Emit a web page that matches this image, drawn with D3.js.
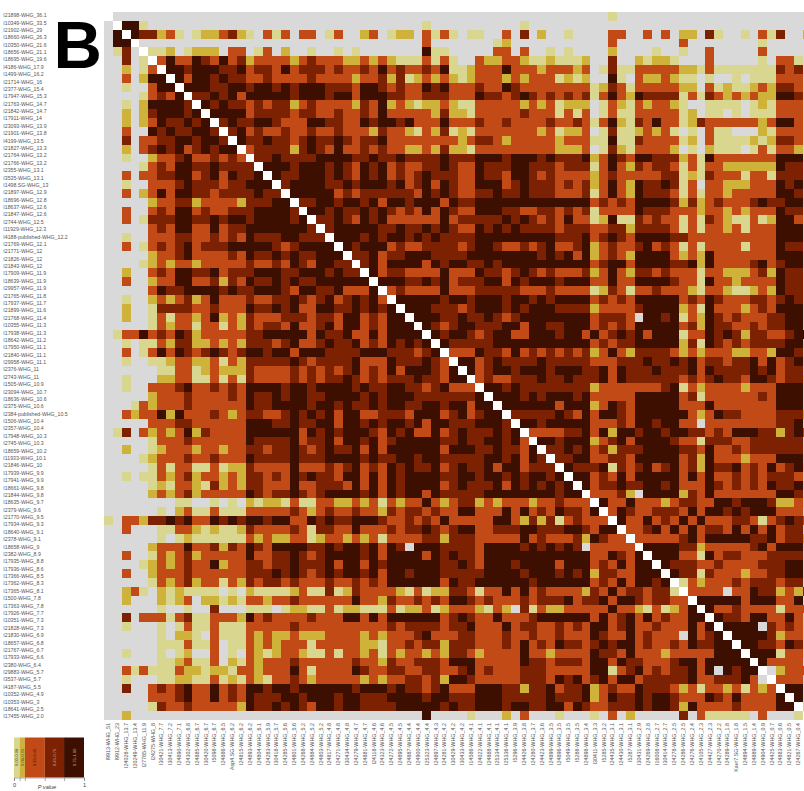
<!DOCTYPE html>
<html><head><meta charset="utf-8">
<script src="https://cdn.jsdelivr.net/npm/d3@7/dist/d3.min.js"></script>
<style>html,body{margin:0;padding:0;background:#fff;overflow:hidden}svg{display:block}text{font-family:"Liberation Sans",Arial,sans-serif}</style>
</head><body><div id="chart"></div>
<script>
const rowLabels = ["I21898-WHG_36.1","I10349-WHG_33.5","I21902-WHG_29","I18660-WHG_26.3","I10350-WHG_21.6","I18656-WHG_21.1","I18695-WHG_19.6","I4186-WHG_17.9","I1499-WHG_16.2","I21714-WHG_16","I2377-WHG_15.4","I17947-WHG_15.3","I21763-WHG_14.7","I21842-WHG_14.7","I17911-WHG_14","I23093-WHG_13.9","I21901-WHG_13.8","I4199-WHG_13.5","I21827-WHG_13.3","I21764-WHG_13.2","I21766-WHG_13.2","I2355-WHG_13.1","I3535-WHG_13.1","I1498.SG-WHG_13","I21897-WHG_12.9","I18696-WHG_12.8","I18637-WHG_12.6","I21847-WHG_12.6","I2744-WHG_12.5","I11929-WHG_12.3","I4188-published-WHG_12.2","I21769-WHG_12.1","I21771-WHG_12","I21826-WHG_12","I21843-WHG_12","I17909-WHG_11.9","I18639-WHG_11.9","I29957-WHG_11.9","I21765-WHG_11.8","I17937-WHG_11.7","I21899-WHG_11.6","I21768-WHG_11.4","I10355-WHG_11.3","I17938-WHG_11.3","I18642-WHG_11.2","I17950-WHG_11.1","I21840-WHG_11.1","I29958-WHG_11.1","I2376-WHG_11","I2743-WHG_11","I1505-WHG_10.9","I23094-WHG_10.7","I18636-WHG_10.6","I2375-WHG_10.6","I2384-published-WHG_10.5","I1506-WHG_10.4","I2357-WHG_10.4","I17948-WHG_10.3","I2745-WHG_10.3","I18659-WHG_10.2","I11933-WHG_10.1","I21846-WHG_10","I17939-WHG_9.9","I17941-WHG_9.9","I18661-WHG_9.8","I21844-WHG_9.8","I18635-WHG_9.7","I2379-WHG_9.6","I21770-WHG_9.5","I17934-WHG_9.3","I18640-WHG_9.1","I2378-WHG_9.1","I18658-WHG_9","I2382-WHG_8.9","I17935-WHG_8.8","I17936-WHG_8.6","I17366-WHG_8.5","I17362-WHG_8.3","I17365-WHG_8.1","I1500-WHG_7.8","I17363-WHG_7.8","I17926-WHG_7.7","I10351-WHG_7.3","I21828-WHG_7.3","I21830-WHG_6.9","I18657-WHG_6.8","I21767-WHG_6.7","I17933-WHG_6.6","I2380-WHG_6.4","I29883-WHG_5.7","I3537-WHG_5.7","I4187-WHG_5.5","I10352-WHG_4.9","I10353-WHG_3","I18641-WHG_2.5","I17455-WHG_2.0"];
const colLabels = ["I9913-WHG_51","I9912-WHG_23","I24028-WHG_13.7","I20249-WHG_13.4","I27785-WHG_11.9","I24275-WHG_8","I30421-WHG_7.7","I30413-WHG_7.2","I24890-WHG_7.1","I24302-WHG_6.8","I24885-WHG_6.7","I30420-WHG_6.7","I5098-WHG_6.7","I24886-WHG_6.5","Asp4.SG-WHG_6.2","I24815-WHG_6.2","I24893-WHG_6.2","I24804-WHG_6.1","I24283-WHG_5.9","I30418-WHG_5.7","I24285-WHG_5.6","I24801-WHG_5.6","I24268-WHG_5.2","I24884-WHG_5.2","I24803-WHG_5.2","I24817-WHG_4.8","I24271-WHG_4.8","I30434-WHG_4.8","I24279-WHG_4.7","I24881-WHG_4.7","I24118-WHG_4.6","I24323-WHG_4.6","I24272-WHG_4.5","I24895-WHG_4.5","I24887-WHG_4.4","I24900-WHG_4.4","I25323-WHG_4.4","I24897-WHG_4.3","I24281-WHG_4.2","I30429-WHG_4.2","I30433-WHG_4.2","I14586-WHG_4.1","I24022-WHG_4.1","I24888-WHG_4.1","I25334-WHG_4.1","I25336-WHG_4.1","I5296-WHG_3.9","I24426-WHG_3.8","I24280-WHG_3.7","I24423-WHG_3.6","I24899-WHG_3.5","I24896-WHG_3.5","I5049-WHG_3.5","I5288-WHG_3.5","I24898-WHG_3.4","I30411-WHG_3.3","I5285-WHG_3.2","I24435-WHG_3.1","I24430-WHG_3.1","I5287-WHG_3.1","I30431-WHG_2.9","I24269-WHG_2.8","I16008-WHG_2.7","I30414-WHG_2.7","I24278-WHG_2.5","I24286-WHG_2.5","I24276-WHG_2.4","I24105-WHG_2.3","I24427-WHG_2.3","I24270-WHG_2.2","I24289-WHG_1.8","Kavr7.SG-WHG_1.8","I24894-WHG_1.5","I24889-WHG_1.4","I24904-WHG_0.9","I24425-WHG_0.7","I24883-WHG_0.6","I24821-WHG_0.5","I24267-WHG_0.4"];
// Upper triangle of the symmetric P-value matrix, one line per row, grouped in tens of columns.
// Digits are the band: 0 no value, 1..5 from the legend, lowest to highest.
const upperBands = [
".000000000 0000000000 0000000000 0000000000 0000000000 0000000100 0000000000 0000000000",
"..55100000 0000000000 0000000000 0000001000 0000000100 0000000000 0000000000 0000000000",
"...5442310 1223421031 3033013002 3012203131 0110030402 0010000330 0303022041 0010314002",
"....000000 0000000000 0000000000 0000003000 0000120000 0000000300 0000030000 0000100000",
".....11201 2220330130 2001001010 0000005110 0000330300 1010000200 0010010030 0000300000",
"......3533 5435342333 3234333223 2321113131 0032233211 2111200400 2122100030 0000103310",
".......554 5554453443 5344434334 3534334351 1233353332 3332301411 3333322131 1111114340",
"........53 5545443343 3334333323 3424123232 1233323233 3121200510 3223211010 0101113330",
".........5 5544554554 5455544435 5434335453 3343354333 3333312431 3333322031 2112324430",
".......... 4454535555 5455545535 5544334443 3354434543 4343413532 5444413143 2323225540",
".......... .545443434 4234333324 3523212232 1133333232 3122201321 3233210011 1101213330",
".......... ..55553444 4344334334 3533333242 2133333433 3131301311 3333312011 0101113330",
".......... ...4544554 3335544335 4554533353 3343343333 4334313521 4353312433 3333235530",
".......... ....453433 4334334333 2433213241 2133333332 3122301411 2323101031 1000213330",
".......... .....54454 4345445434 4533333333 2344323333 3233311511 4333312031 1112124430",
".......... ......3444 4245435334 3433223242 2133333333 3222301421 3333201021 1101313320",
".......... .......445 4444555544 5445444454 4455545554 5444523543 5544423153 3333335550",
".......... ........55 5455545435 4534334454 3354445544 4344413532 4344313133 2222225440",
".......... .........5 4455545435 4534345444 3354435543 4333323433 3334412143 3313314440",
".......... .......... 4555544545 5545345354 3355534544 4343423532 5445413033 2223335450",
".......... .......... .555553434 4444435454 3344544544 4333413532 5444313133 2333335540",
".......... .......... ..44554554 5355455535 4455555555 5555534343 5555424234 3334544550",
".......... .......... ...5545445 4543435354 3355544334 4343413333 5444333233 2323335440",
".......... .......... ....445435 4533333353 4444454543 4353312511 4343313143 2113125530",
".......... .......... .....45555 5445445454 3354545444 4344433442 4444313133 2313335550",
".......... .......... ......5554 5455454544 4455555555 5444534543 5555443333 3333335550",
".......... .......... .......545 5534334444 3455433434 5334523433 4534313133 3313335440",
".......... .......... ........44 5344555444 4555555554 5453523432 5555323253 3333335550",
".......... .......... .........4 5355553545 5445455555 5555534553 5555445253 3334534550",
".......... .......... .......... 5344333353 3354434543 4333423532 4434333133 2223425440",
".......... .......... .......... .555445453 4445535455 5455533533 5555433153 3233335440",
".......... .......... .......... ..34333353 3344444333 4333312431 3343332133 2112325440",
".......... .......... .......... ...5555545 5455545545 4555534343 5555534354 3334434540",
".......... .......... .......... ....555444 3455545455 5444423333 4555523153 3323435550",
".......... .......... .......... .....55544 5445434555 5555534443 0554513254 3433344550",
".......... .......... .......... ......5434 5544455355 4455534343 5555534254 4334344550",
".......... .......... .......... .......545 5434553355 5455353454 5355513354 5424433455",
".......... .......... .......... ........54 4444555555 5555534344 5555524154 3434444550",
".......... .......... .......... .........3 3354435343 4343423532 4444323233 3223325540",
".......... .......... .......... .......... 5534544445 4444433344 4544545344 3445353450",
".......... .......... .......... .......... .534554555 4555445354 4454445354 4445453440",
".......... .......... .......... .......... ..34334445 4454445354 4444434345 4435543441",
".......... .......... .......... .......... ...5545444 4444423333 3334513233 3323335550",
".......... .......... .......... .......... ....555454 5554533333 5555534133 3333435550",
".......... .......... .......... .......... .....55555 5355523543 5555533353 3333335550",
".......... .......... .......... .......... ......4444 4543535543 5555553235 4433334442",
".......... .......... .......... .......... .......554 5555533343 5545533033 3333334450",
".......... .......... .......... .......... ........33 3344535255 4554554434 3555442453",
".......... .......... .......... .......... .........5 5455523453 5555433144 4334444440",
".......... .......... .......... .......... .......... 4454534244 4555544353 3434444440",
".......... .......... .......... .......... .......... .445533443 5555534253 3323335550",
".......... .......... .......... .......... .......... ..54445143 4534534254 4534353451",
".......... .......... .......... .......... .......... ...5534353 5555535353 3434344430",
".......... .......... .......... .......... .......... ....534454 4554533354 3434354450",
".......... .......... .......... .......... .......... .....33342 0555524353 3333335540",
".......... .......... .......... .......... .......... ......5335 3332344335 5455542231",
".......... .......... .......... .......... .......... .......354 3344435355 4545553330",
".......... .......... .......... .......... .......... ........53 3534353533 3443134543",
".......... .......... .......... .......... .......... .........3 3453535344 3535353440",
".......... .......... .......... .......... .......... .......... 3333345355 5554453442",
".......... .......... .......... .......... .......... .......... .555544233 3334535550",
".......... .......... .......... .......... .......... .......... ..55533153 4433344440",
".......... .......... .......... .......... .......... .......... ...5444334 3333444550",
".......... .......... .......... .......... .......... .......... ....544143 3323344550",
".......... .......... .......... .......... .......... .......... .....13233 3434443440",
".......... .......... .......... .......... .......... .......... ......3333 0335442324",
".......... .......... .......... .......... .......... .......... .......555 5535553350",
".......... .......... .......... .......... .......... .......... ........53 3433331333",
".......... .......... .......... .......... .......... .......... .........5 4435533531",
".......... .......... .......... .......... .......... .......... .......... 5555043431",
".......... .......... .......... .......... .......... .......... .......... .555542331",
".......... .......... .......... .......... .......... .......... .......... ..55443541",
".......... .......... .......... .......... .......... .......... .......... ...5551331",
".......... .......... .......... .......... .......... .......... .......... ....533330",
".......... .......... .......... .......... .......... .......... .......... .....02333",
".......... .......... .......... .......... .......... .......... .......... ......3330",
".......... .......... .......... .......... .......... .......... .......... .......550",
".......... .......... .......... .......... .......... .......... .......... ........50",
".......... .......... .......... .......... .......... .......... .......... .........1",
".......... .......... .......... .......... .......... .......... .......... .........."
];
const bandValues = [null, 0.04, 0.12, 0.3, 0.6, 0.86];
const legendBreaks = [0.08, 0.155, 0.44, 0.715];
const legendColors = ["#d9d78f", "#cfb23a", "#c24a16", "#7c2203", "#3d0f00"];
const legendLabels = ["0.00-0.08", "0.08-0.15", "0.15-0.45", "0.45-0.75", "0.75-1.00"];
const panelLetter = "B";
const missingColor = "#d9d9d9";

const n = upperBands.length;
const rows = upperBands.map(r => r.replace(/ /g, ""));

const svg = d3.select("#chart").append("svg").attr("width", 804).attr("height", 791);
const cellSize = 8.844;
const idx = d3.range(n);
const x = d3.scaleBand().domain(idx).range([104, 104 + n * cellSize]);
const y = d3.scaleBand().domain(idx).range([12, 12 + n * cellSize]);
const color = d3.scaleThreshold().domain(legendBreaks).range(legendColors);

const cells = [];
idx.forEach(r => idx.forEach(c => {
  const lo = Math.min(r, c), hi = Math.max(r, c);
  const diag = r === c;
  const band = diag ? null : +rows[lo][hi];
  cells.push({ r, c, diag, value: diag ? null : bandValues[band] });
}));
svg.append("g").selectAll("rect").data(cells).join("rect")
  .attr("x", d => x(d.c)).attr("y", d => y(d.r))
  .attr("width", x.bandwidth() + 0.3).attr("height", y.bandwidth() + 0.3)
  .attr("shape-rendering", "crispEdges")
  .attr("fill", d => d.diag ? "#fff" : d.value === null ? missingColor : color(d.value));

// row labels
const yLab = d3.scalePoint().domain(d3.range(rowLabels.length)).range([14.8, 716]);
const gy = svg.append("g").attr("transform", "translate(3.3,0)")
  .call(d3.axisLeft(yLab).tickSize(0).tickPadding(0).tickFormat(i => rowLabels[i]));
gy.select(".domain").remove();
gy.selectAll("text").attr("x", 0).attr("dy", "0.35em").attr("text-anchor", "start")
  .attr("font-size", 5.2).attr("fill", "#555").style("font-family", '"Liberation Sans",Arial,sans-serif');

// column labels
const xLab = d3.scaleBand().domain(d3.range(colLabels.length)).range([104, 104 + colLabels.length * cellSize]);
const gx = svg.append("g").attr("transform", "translate(0,723)")
  .call(d3.axisBottom(xLab).tickSize(0).tickPadding(0).tickFormat(i => colLabels[i]));
gx.select(".domain").remove();
gx.selectAll("text").attr("transform", "rotate(-90)").attr("x", 0).attr("y", 0).attr("dy", "0.35em")
  .attr("text-anchor", "end").attr("font-size", 5.4).attr("fill", "#555")
  .style("font-family", '"Liberation Sans",Arial,sans-serif');

// panel letter
svg.append("text").attr("x", 53.5).attr("y", 68).attr("font-size", 67).attr("font-weight", "bold")
  .attr("fill", "#000").text(panelLetter);

// legend
const lx = d3.scaleLinear().domain([0, 1]).range([14, 84]);
const edges = [0, ...legendBreaks, 1];
const lg = svg.append("g");
lg.selectAll("rect").data(legendColors).join("rect")
  .attr("x", (d, i) => lx(edges[i])).attr("y", 737.5)
  .attr("width", (d, i) => lx(edges[i + 1]) - lx(edges[i])).attr("height", 40).attr("fill", d => d);
lg.selectAll("text.band").data(legendLabels).join("text").attr("class", "band")
  .attr("transform", (d, i) => `translate(${(lx(edges[i]) + lx(edges[i + 1])) / 2},757.5) rotate(-90)`)
  .attr("text-anchor", "middle").attr("dy", "0.35em").attr("font-size", 4.2)
  .attr("fill", (d, i) => i < 2 ? "#55502a" : i === 2 ? "#3d1a08" : "#c9a58c").text(d => d);
const lax = lg.append("g").attr("transform", "translate(0,777.5)")
  .call(d3.axisBottom(lx).tickValues(edges).tickSize(3.5).tickFormat(v => (v === 0 || v === 1) ? v : ""));
lax.select(".domain").attr("stroke", "#777").attr("stroke-width", 0.6);
lax.selectAll("line").attr("stroke", "#777").attr("stroke-width", 0.6);
lax.selectAll("text").attr("y", 6).attr("font-size", 5.6).attr("fill", "#444").style("font-family", '"Liberation Sans",Arial,sans-serif');
lg.append("text").attr("x", 47).attr("y", 789).attr("text-anchor", "middle").attr("font-size", 5.6)
  .attr("font-style", "italic").attr("fill", "#444").text("P value");
</script></body></html>
